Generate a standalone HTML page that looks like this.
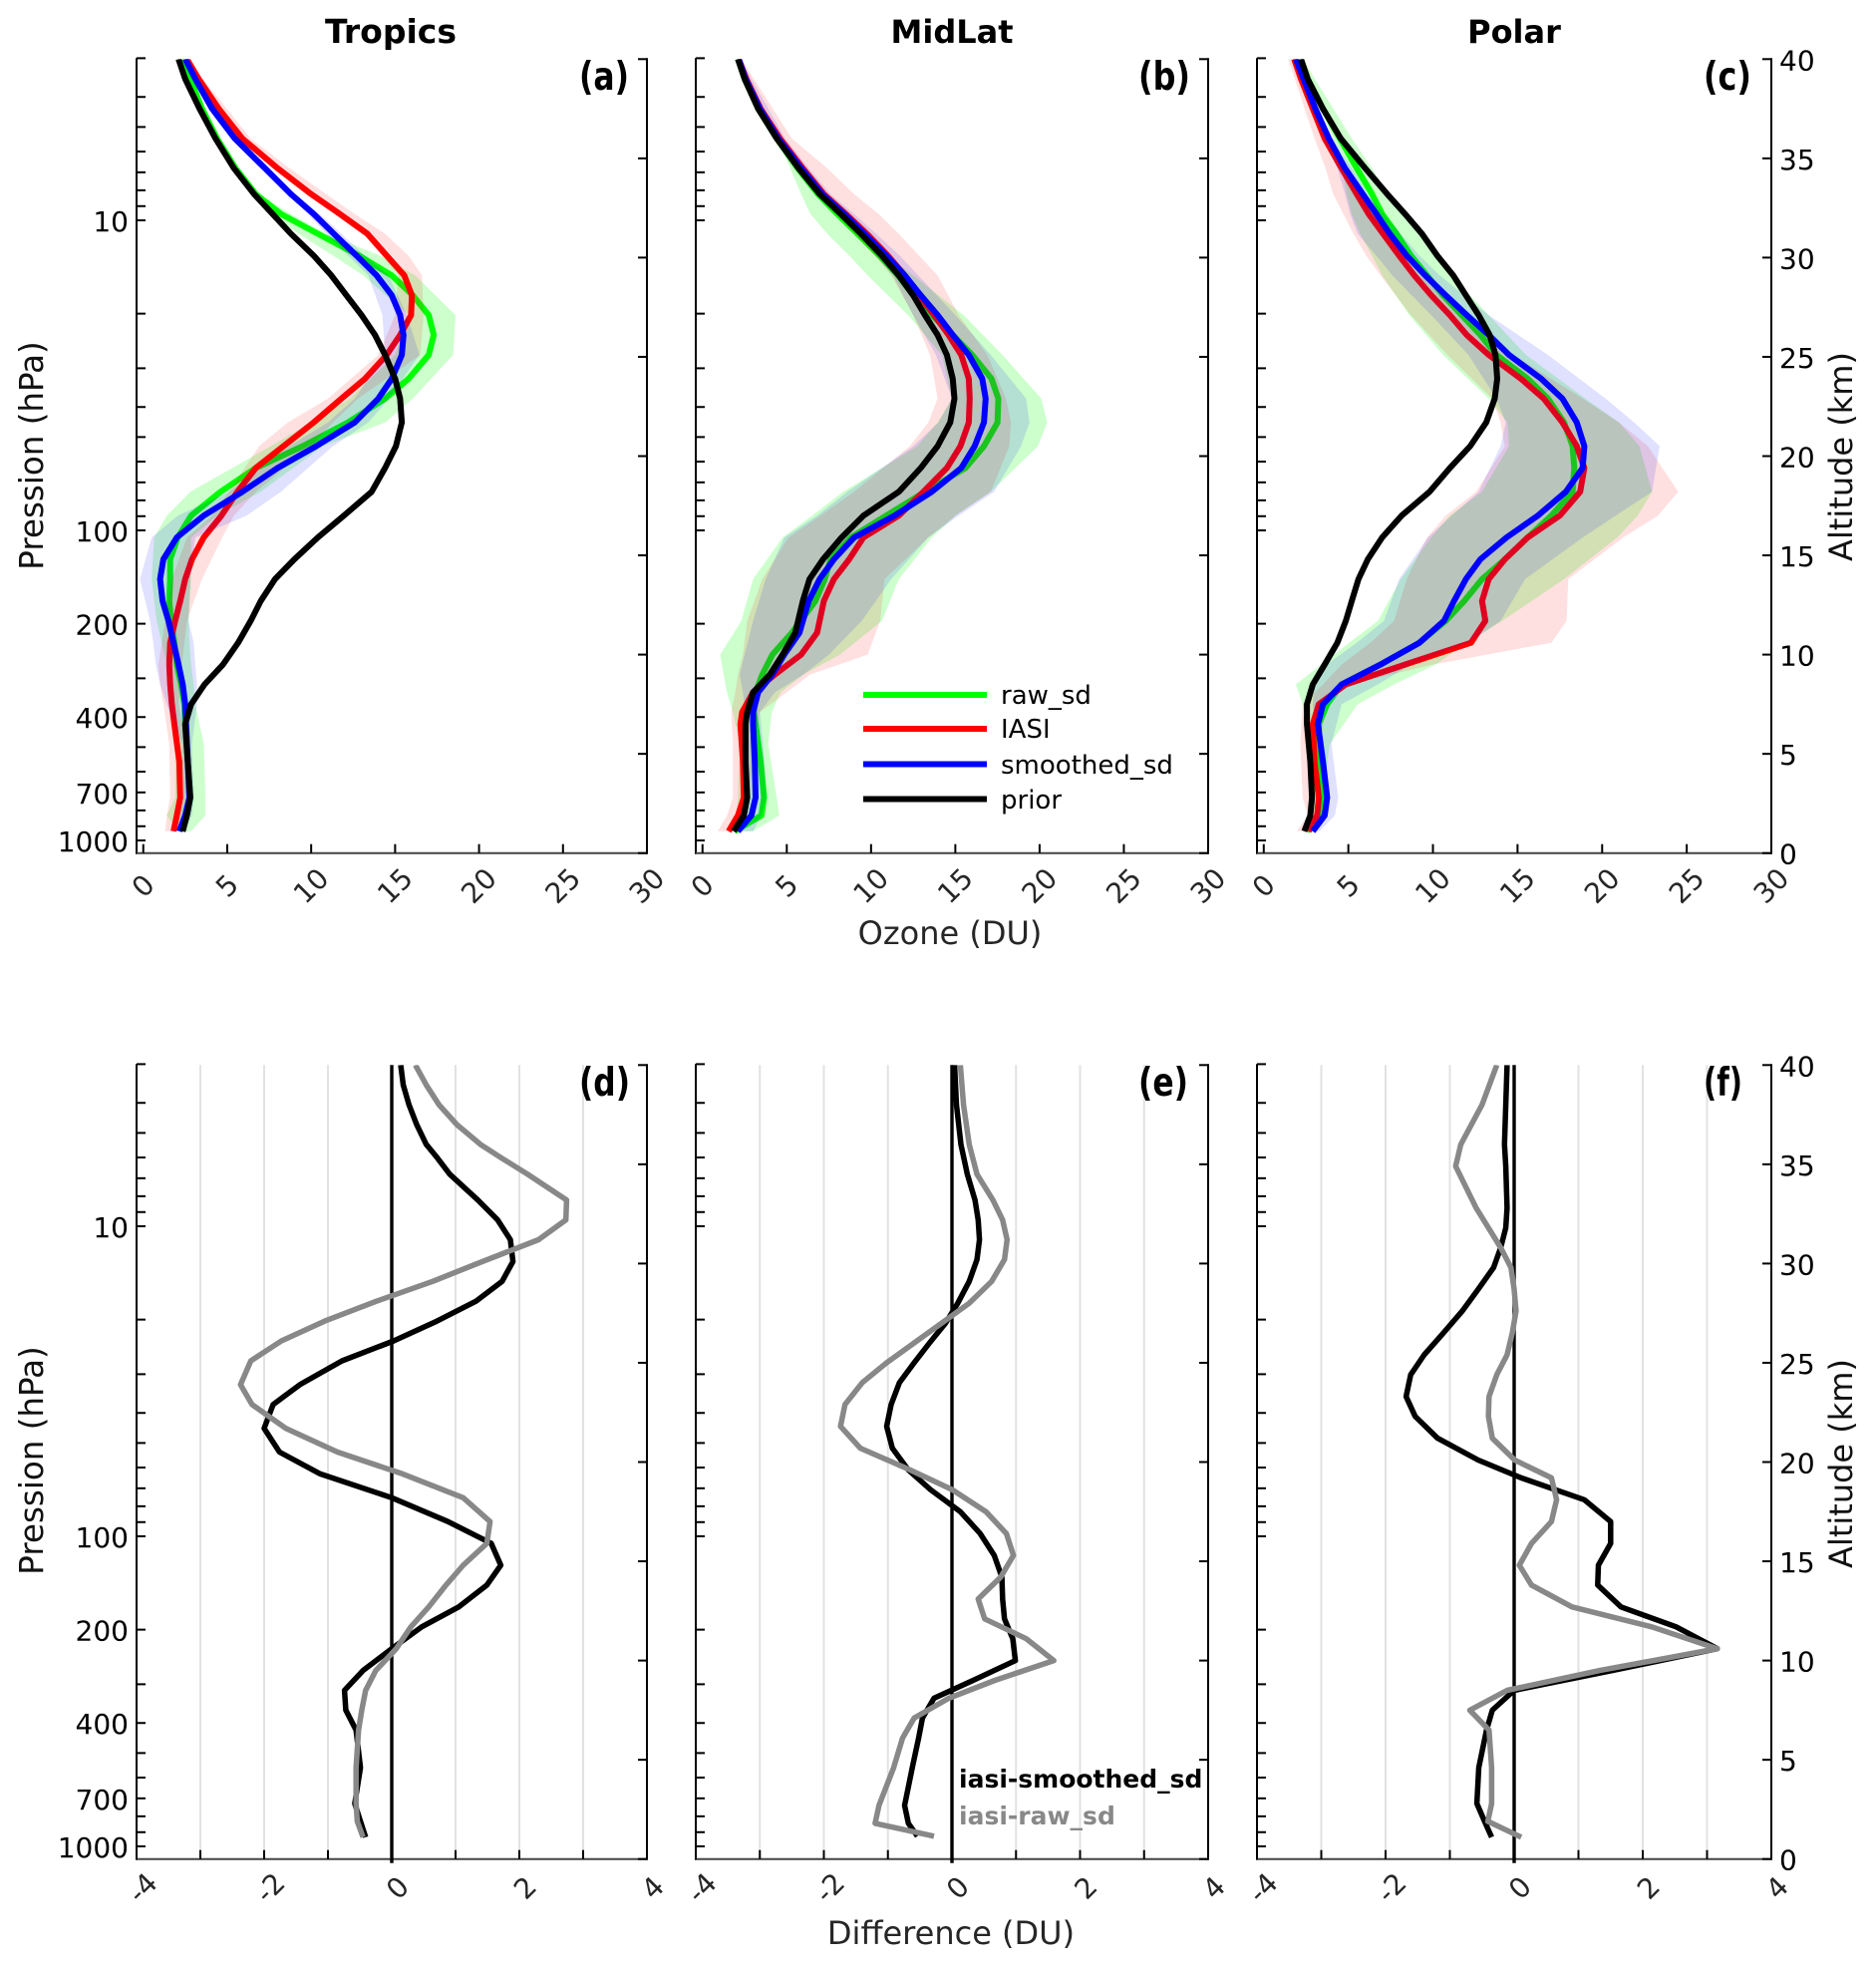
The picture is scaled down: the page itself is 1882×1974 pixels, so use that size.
<!DOCTYPE html>
<html lang="en">
<head>
<meta charset="utf-8">
<title>Ozone profiles by latitude band</title>
<style>
html,body{margin:0;padding:0;background:#fff;}
svg{display:block;font-family:"DejaVu Sans","Liberation Sans",sans-serif;}
.title,.panel-letter,.diff-legend{font-weight:bold;}
</style>
</head>
<body>
<svg id="figure" xmlns="http://www.w3.org/2000/svg" width="1882" height="1974" viewBox="0 0 1882 1974">
  <rect x="0" y="0" width="1882" height="1974" fill="#fff"/>
  <g id="marks"></g>
  <text class="title" x="392" y="43" font-size="33" text-anchor="middle">Tropics</text>
  <text class="title" x="955" y="43" font-size="32" text-anchor="middle">MidLat</text>
  <text class="title" x="1519" y="43" font-size="32" text-anchor="middle">Polar</text>
  <text class="panel-letter" x="581" y="90" font-size="39" textLength="50" lengthAdjust="spacingAndGlyphs">(a)</text>
  <text class="panel-letter" x="1142" y="90" font-size="39" textLength="52" lengthAdjust="spacingAndGlyphs">(b)</text>
  <text class="panel-letter" x="1709" y="90" font-size="39" textLength="48" lengthAdjust="spacingAndGlyphs">(c)</text>
  <text class="panel-letter" x="581" y="1099" font-size="39" textLength="51" lengthAdjust="spacingAndGlyphs">(d)</text>
  <text class="panel-letter" x="1142" y="1099" font-size="39" textLength="50" lengthAdjust="spacingAndGlyphs">(e)</text>
  <text class="panel-letter" x="1709" y="1099" font-size="39" textLength="39" lengthAdjust="spacingAndGlyphs">(f)</text>
  <text x="953" y="947" font-size="32" fill="#262626" text-anchor="middle">Ozone (DU)</text>
  <text x="954" y="1950" font-size="32" fill="#262626" text-anchor="middle">Difference (DU)</text>
  <text transform="translate(43 457) rotate(-90)" font-size="32.5" fill="#111" text-anchor="middle">Pression (hPa)</text>
  <text transform="translate(43 1465) rotate(-90)" font-size="32.5" fill="#111" text-anchor="middle">Pression (hPa)</text>
  <text transform="translate(1858 458) rotate(-90)" font-size="32" fill="#111" text-anchor="middle">Altitude (km)</text>
  <text transform="translate(1858 1468) rotate(-90)" font-size="32" fill="#111" text-anchor="middle">Altitude (km)</text>
  <g>
    <line x1="866" x2="990" y1="697" y2="697" stroke="#00ff00" stroke-width="6"/>
    <text x="1004" y="706" font-size="26">raw_sd</text>
    <line x1="866" x2="990" y1="731" y2="731" stroke="#ff0000" stroke-width="6"/>
    <text x="1004" y="740" font-size="26">IASI</text>
    <line x1="866" x2="990" y1="766.5" y2="766.5" stroke="#0000ff" stroke-width="6"/>
    <text x="1004" y="776" font-size="26">smoothed_sd</text>
    <line x1="866" x2="990" y1="801.5" y2="801.5" stroke="#000" stroke-width="6"/>
    <text x="1004" y="811" font-size="26">prior</text>
  </g>
  <text class="diff-legend" x="962" y="1793" font-size="25" fill="#000">iasi-smoothed_sd</text>
  <text class="diff-legend" x="962" y="1830" font-size="25" fill="#888">iasi-raw_sd</text>
</svg>
<script>
// ---------- axis tick data ----------
const ozoneTicks = [0, 5, 10, 15, 20, 25, 30];
const diffTicks = [-4, -3, -2, -1, 0, 1, 2, 3, 4];
const diffTickLabels = [-4, -2, 0, 2, 4];
const gridValues = [-3, -2, -1, 1, 2, 3];
const pressureTickLabels = [10, 100, 200, 400, 700, 1000];
const pressureMinorTicks = [3, 4, 5, 6, 7, 8, 9, 20, 30, 40, 50, 60, 70, 80, 90, 300, 500, 600, 800, 900];
const altitudeTicks = [0, 5, 10, 15, 20, 25, 30, 35, 40];

// ---------- altitude levels (km) ----------
const altA = [1.1,1.9,2.8,4.6,6.5,7.5,8.5,9.5,10.6,11.7,12.7,13.8,14.8,15.9,17,18.2,19.4,20.5,21.7,22.9,23.9,25.1,26.1,27.1,28.1,29.1,30.1,31.2,32.2,33.2,34.5,36,37.5,39,40];
const altB = [1.1,1.9,2.8,4.6,6.5,7.1,8.1,9,10,11.1,12.7,13.8,14.8,15.9,17,18.2,19.4,20.5,21.7,22.9,23.9,25.1,26.1,27.1,28.1,29.1,30.1,31.2,32.2,33.2,34.5,36,37.5,39,40];
const altC = [1.1,1.9,2.8,4.6,6.5,7.5,8.5,9.5,10.6,11.7,12.7,13.8,14.8,15.9,17,18.2,19.4,20.5,21.7,22.9,23.9,25.1,26.1,27.1,28.1,29.1,30.1,31.2,32.2,33.2,34.5,36,37.5,39,40];
const bandAltA = [1.1,1.9,2.8,5.5,7.5,8.5,9.5,10.6,11.7,13.8,15.9,17,18.2,20.5,21.7,22.9,25.1,27.1,29.1,30.1,31.2,32.2,33.2,34.5,36,40];
const bandAltB = [1.1,1.9,2.8,5.5,7.1,8.1,9,10,11.7,13.8,15.9,17,18.2,20.5,21.7,22.9,25.1,27.1,29.1,30.1,31.2,32.2,33.2,34.5,36,40];
const bandAltC = [1.1,1.9,2.8,5.5,7.5,8.5,9.5,10.6,11.7,13.8,15.9,17,18.2,20.5,21.7,22.9,25.1,27.1,29.1,30.1,31.2,32.2,33.2,34.5,36,40];
const altD = [1.1,1.9,2.8,4.6,6.5,7.5,8.5,9.5,10.6,11.7,12.7,13.8,14.8,15.9,17,18.2,19.4,20.5,21.7,22.9,23.9,25.1,26.1,27.1,28.1,29.1,30.1,31.2,32.2,33.2,34.5,35.3,36,37,38,39,40];
const altE = [1.15,1.8,2.7,4.6,6.1,7.1,8.1,9,10,11.1,12.1,13.1,14.2,15.3,16.4,17.5,18.6,19.6,20.7,21.8,22.9,24,25,26,27,28,29.1,30.2,31.2,32.2,33.2,34.5,36,38,40];
const altF = [1.1,1.9,2.8,4.6,6.5,7.5,8.5,9.5,10.6,11.7,12.7,13.8,14.8,15.9,17,18.1,19.2,20.1,21.2,22.3,23.3,24.4,25.4,26.5,27.6,28.7,29.8,30.8,31.8,32.8,34.9,36,38,40];

// ---------- Tropics (DU) ----------
const priorA = [2.35,2.6,2.8,2.65,2.5,2.85,3.65,4.75,5.65,6.4,7.0,7.85,9.0,10.4,11.95,13.6,14.4,15.05,15.4,15.3,15.0,14.4,13.8,13.0,12.1,11.2,10.15,8.8,7.7,6.6,5.4,4.3,3.35,2.5,2.1];
const rawA = [2.3,2.6,2.8,2.65,2.5,2.45,2.25,2.0,1.85,1.65,1.55,1.6,1.6,2.05,2.85,4.6,6.7,9.5,12.2,14.4,15.8,17.0,17.3,17.0,16.05,14.8,12.85,10.4,8.2,6.7,5.5,4.4,3.5,2.8,2.4];
const iasiA = [1.8,2.0,2.2,2.15,1.85,1.7,1.6,1.55,1.6,1.9,2.2,2.5,2.9,3.6,4.65,5.6,6.7,8.35,10.15,11.8,13.2,14.5,15.3,15.95,16.0,15.55,14.5,13.35,11.7,10,8,5.9,4.5,3.3,2.6];
const smoothedA = [2.15,2.5,2.75,2.65,2.55,2.5,2.35,2.1,1.8,1.5,1.15,1.0,1.2,2.0,3.6,5.9,8.0,10.3,12.6,14.0,14.8,15.4,15.5,15.3,14.8,13.9,12.7,11.35,10.15,8.8,7.25,5.45,4.1,3.1,2.5];
const rawLoA = [2.05,1.4,1.9,1.9,1.8,1.6,1.4,1.1,0.8,0.5,0.65,1.4,2.8,7.6,10,12.3,15,15.8,13.1,11.3,9.25,7.6,6.6,5.5,4.3,2.4];
const rawHiA = [2.85,3.7,3.7,3.6,3.1,3,2.85,2.75,2.7,2.85,2.85,4.4,7,10.7,14.4,16.05,18.45,18.6,16.2,14.1,10.9,8.8,6.9,5.7,4.5,2.4];
const iasiLoA = [1.3,1.4,1.6,1.55,1.2,1,0.9,1.1,1.3,1.7,2.6,4.1,5.1,6.9,8.6,11,14,15,15.2,14.2,13.1,11.5,9.8,7.8,5.8,2.6];
const iasiHiA = [2.2,2.5,2.8,2.55,2.1,2.2,2.3,2.45,2.6,3.5,4.7,5.4,6.7,10,11.3,12.8,16.5,16.7,16.6,15.8,14.4,12.6,10.9,8.7,6.4,2.6];
const smoothedLoA = [2,2.2,2.4,2.3,1.4,1,0.75,0.6,0.4,-0.2,0.5,2.05,5.1,8.7,11,12.6,14.4,14.25,13.4,12.2,10.9,9.8,8.6,7.1,5.3,2.5];
const smoothedHiA = [2.4,2.9,3,2.9,3.2,3.2,3.1,3,2.7,2.8,3.1,6.15,8.2,11.3,13.4,14.65,16.45,15.7,14.6,13.2,11.8,10.5,9,7.4,5.6,2.5];

// ---------- MidLat (DU) ----------
const priorB = [1.85,2.45,2.65,2.55,2.55,2.65,3,4,4.75,5.5,5.95,6.35,7.15,8.25,9.55,11.65,12.95,13.95,14.7,14.95,14.85,14.5,13.95,13.2,12.5,11.65,10.65,9.4,8.2,6.95,5.7,4.4,3.3,2.5,2.1];
const rawB = [1.9,3.5,3.65,3.45,3.15,3.05,3.15,3.55,4.15,5.3,6.7,7.25,7.6,8.8,10.9,13.2,15.6,16.7,17.5,17.55,17.15,16,14.85,13.6,12.5,11.6,10.5,9.2,8,6.85,5.65,4.4,3.3,2.5,2.1];
const iasiB = [1.55,2.1,2.45,2.4,2.25,2.35,3,4.3,5.85,6.8,7.2,7.8,8.7,9.55,11.65,13.1,14.5,15.3,15.8,15.85,15.8,15.35,14.6,13.75,12.85,12,11,9.75,8.5,7.2,5.95,4.6,3.45,2.6,2.15];
const smoothedB = [2.1,2.9,3.15,3.1,3,3,3.3,4.15,4.85,5.75,6.3,6.95,7.8,9,11.4,13.6,15.35,16.15,16.7,16.8,16.6,15.8,14.85,13.95,12.95,12,10.9,9.6,8.4,7.1,5.85,4.5,3.4,2.55,2.15];
const rawLoB = [1.8,2,2.1,2.2,1.8,1.45,1.25,1.05,2.3,3,4.75,6.5,8.35,12.75,13.95,14.8,14.2,12.2,9.8,8.7,7.4,6.4,5.85,5.2,4.4,2];
const rawHiB = [3,4.55,4.4,3.9,4.1,4.65,6,8.15,10.65,11.65,13.6,15,17.1,19.9,20.45,20.1,17.8,15.5,12.5,11,9.6,8.4,7.1,5.75,4.5,2.2];
const iasiLoB = [0.9,1.45,1.8,1.8,1.7,1.95,2.1,2.4,2.65,3.55,5.1,7,9,12.3,13.4,13.95,13.5,12.5,11.2,10.2,9,7.9,6.8,5.6,4.3,2.1];
const iasiHiB = [1.8,2.55,2.8,3,3.4,5,6.4,9.8,10.55,10.8,13.4,15,17.1,18.2,18.3,18,16.9,15.2,13.95,12.85,11.65,10.45,9,7.4,5.3,2.3];
const smoothedLoB = [1.8,2.3,2.5,2.4,2.55,2.4,2.2,2.5,3,3.75,4.85,6.8,8.6,12.5,14,14.8,13.85,12.5,11.3,10.3,9.2,8,6.9,5.6,4.3,2.1];
const smoothedHiB = [3,3.5,3.8,3.6,3.4,4.3,6,7.5,9.45,11.2,13.4,15.2,17.3,18.9,19.4,19.2,17.1,15,12.8,11.7,10.3,9,7.6,6.3,4.9,2.25];

// ---------- Polar (DU) ----------
const priorC = [2.4,2.75,2.85,2.75,2.55,2.55,2.9,3.6,4.35,4.85,5.2,5.6,6.15,7,8.15,9.8,11,12.2,13.15,13.65,13.8,13.7,13.35,12.7,11.95,11.2,10.25,9.35,8.35,7.3,6,4.55,3.5,2.6,2.2];
const rawC = [2.55,3.25,3.4,3.3,3.25,3.75,4.6,6.9,9.2,10.75,11.85,12.9,14.25,15.6,17,18.25,18.35,18.25,17.75,16.8,15.6,13.75,12.8,11.7,10.6,9.65,8.7,7.85,7,6.4,5.5,4.5,3.5,2.6,2.2];
const iasiC = [2.65,3.15,3.25,3,2.9,3.25,4.85,8.35,12.25,13.1,12.9,13.3,14.25,15.6,17.5,18.7,18.95,18.5,17.65,16.55,15.2,13.3,12,11,9.9,8.9,8,7.05,6.2,5.5,4.6,3.6,2.9,2.2,1.8];
const smoothedC = [2.9,3.6,3.75,3.5,3.2,3.5,4.6,6.9,9.2,10.65,11.25,11.95,12.8,14.35,16.2,17.85,18.85,18.95,18.5,17.65,16.4,14.5,13.3,12,10.75,9.55,8.45,7.45,6.65,5.85,4.8,3.85,3.05,2.35,1.9];
const rawLoC = [2.4,2.9,3,2.65,2.3,1.9,3.4,5.05,6.75,8.1,9.9,11,12.9,14.5,14.4,13.3,10.6,8.6,7,6.4,5.7,5.2,4.9,4.6,4.1,2.2];
const rawHiC = [2.8,3.6,3.5,3.9,5.55,7.7,10.15,12,14.1,17.75,20.9,22.1,22.95,22.2,21,19,15.5,13.3,11.1,10.25,9.2,8.35,7.35,6.4,5.2,2.3];
const iasiLoC = [1.95,2.6,2.3,2.15,2.3,3.5,4.6,6.3,7.7,8.45,9.65,10.75,12.55,14.25,14,13.5,10.85,8.7,6.9,6.05,5.3,4.7,4.1,3.65,3,1.45];
const iasiHiC = [2.4,3,3,3.4,3.6,5,10,17,17.9,18,21.25,23.3,24.5,22.7,21,18.85,14.75,12.1,9.55,8.45,7.6,6.65,5.9,5.05,3.9,1.9];
const smoothedLoC = [2.6,3,3.3,3.2,2.9,3,3.7,5.5,7.1,8,9.7,11.1,12.7,14,14.3,13.75,12.1,9.9,7.6,6.65,5.55,5.1,4.8,4.35,3.5,1.7];
const smoothedHiC = [3.3,4.2,4.4,4,4.6,6.75,8.7,12.1,14,15.45,18.85,20.8,22.95,23.4,21.9,20.2,16.8,13.3,10.4,9.2,8.1,7.1,6.15,5.2,4,2.1];

// ---------- Differences (DU) ----------
const smoothedDiffD = [-0.41,-0.49,-0.58,-0.49,-0.56,-0.72,-0.74,-0.45,0,0.47,1.05,1.49,1.71,1.56,0.88,0,-1.12,-1.76,-2.0,-1.86,-1.44,-0.78,0.03,0.71,1.32,1.73,1.9,1.86,1.66,1.35,0.91,0.72,0.54,0.39,0.27,0.18,0.14];
const rawDiffD = [-0.45,-0.54,-0.56,-0.56,-0.52,-0.47,-0.41,-0.25,0.07,0.3,0.58,0.85,1.12,1.49,1.54,1.12,0.17,-0.85,-1.66,-2.19,-2.37,-2.21,-1.73,-1.05,-0.24,0.64,1.42,2.3,2.73,2.74,2.13,1.73,1.39,1.02,0.74,0.54,0.37];
const smoothedDiffE = [-0.54,-0.68,-0.74,-0.62,-0.52,-0.46,-0.28,0.33,0.99,0.95,0.82,0.79,0.78,0.66,0.44,0.13,-0.33,-0.68,-0.93,-1.02,-0.95,-0.82,-0.59,-0.35,-0.1,0.09,0.27,0.39,0.43,0.41,0.36,0.24,0.14,0.07,0.04];
const rawDiffE = [-0.28,-1.2,-1.14,-0.91,-0.77,-0.59,-0.05,0.67,1.59,1.16,0.51,0.41,0.76,0.96,0.85,0.53,0.01,-0.65,-1.43,-1.74,-1.67,-1.4,-1.02,-0.59,-0.16,0.27,0.62,0.82,0.86,0.79,0.64,0.39,0.27,0.18,0.13];
const smoothedDiffF = [-0.35,-0.46,-0.58,-0.55,-0.43,-0.34,0,1.53,3.16,2.52,1.66,1.3,1.31,1.5,1.5,1.09,0.11,-0.56,-1.19,-1.54,-1.68,-1.61,-1.4,-1.1,-0.81,-0.56,-0.32,-0.21,-0.13,-0.11,-0.13,-0.15,-0.13,-0.11];
const rawDiffF = [0.11,-0.41,-0.35,-0.35,-0.39,-0.69,-0.11,1.33,3.16,2.14,0.9,0.27,0.08,0.27,0.58,0.66,0.58,0.01,-0.34,-0.4,-0.39,-0.27,-0.11,-0.03,0.03,0,-0.05,-0.21,-0.4,-0.59,-0.91,-0.83,-0.5,-0.27];

// ---------- drawing ----------
const NS = 'http://www.w3.org/2000/svg';
const marks = document.getElementById('marks');

function make(tag, attrs, name, parent) {
  const node = document.createElementNS(NS, tag);
  for (const key in attrs) node.setAttribute(key, attrs[key]);
  
  
  (parent || marks).appendChild(node);
  return node;
}

function panelAxes(left, right, top, xMin, xMax) {
  const bottom = top + 796.4;
  return {
    left, right, top, bottom,
    x: v => left + (v - xMin) / (xMax - xMin) * (right - left),
    alt: z => bottom - 19.91 * z,
    pres: p => top + 161.7 + 311 * Math.log10(p / 10)
  };
}

function polyline(ax, alts, values) {
  return values.map((v, i) => ax.x(v).toFixed(1) + ',' + ax.alt(alts[i]).toFixed(1)).join(' ');
}

function drawLine(ax, alts, values, color, width, name, clip) {
  make('polyline', {points: polyline(ax, alts, values), fill: 'none', stroke: color, 'stroke-width': width, 'stroke-linejoin': 'round', 'clip-path': 'url(#' + clip + ')'}, name);
}

function drawBand(ax, alts, lo, hi, color, opacity, name, clip) {
  const forward = lo.map((v, i) => ax.x(v).toFixed(1) + ',' + ax.alt(alts[i]).toFixed(1));
  const back = hi.map((v, i) => ax.x(v).toFixed(1) + ',' + ax.alt(alts[i]).toFixed(1)).reverse();
  make('polygon', {points: forward.concat(back).join(' '), fill: color, 'fill-opacity': opacity, 'clip-path': 'url(#' + clip + ')'}, name);
}

function drawFrame(ax, id, xTickValues, xLabels, labelDy, labelDx, showPressure, showAltitude) {
  const clip = make('clipPath', {id: 'clip-' + id}, 'clip-region-' + id);
  make('rect', {x: ax.left, y: ax.top, width: ax.right - ax.left, height: ax.bottom - ax.top}, 'clip-rect-' + id, clip);

  const g = make('g', {stroke: '#000', 'stroke-width': 2}, 'axes-frame-' + id);
  make('line', {x1: ax.left, x2: ax.left, y1: ax.top - 1, y2: ax.bottom + 1}, 'left-spine-' + id, g);
  make('line', {x1: ax.right, x2: ax.right, y1: ax.top - 1, y2: ax.bottom + 1}, 'right-spine-' + id, g);
  make('line', {x1: ax.left, x2: ax.right, y1: ax.bottom, y2: ax.bottom, stroke: '#444'}, 'bottom-spine-' + id, g);

  pressureMinorTicks.concat(pressureTickLabels).forEach(p => {
    const y = ax.pres(p);
    make('line', {x1: ax.left, x2: ax.left + 9, y1: y, y2: y}, 'pressure-tick-' + id, g);
  });
  altitudeTicks.forEach(z => {
    const y = ax.alt(z);
    make('line', {x1: ax.right - 9, x2: ax.right, y1: y, y2: y}, 'altitude-tick-' + id, g);
  });
  xTickValues.forEach(v => {
    const x = ax.x(v);
    make('line', {x1: x, x2: x, y1: ax.bottom - 9, y2: ax.bottom}, 'x-tick-' + id, g);
  });
  xLabels.forEach(v => {
    const x = ax.x(v) + labelDx;
    const y = ax.bottom + labelDy;
    const t = make('text', {x: x, y: y, 'font-size': 28, fill: '#262626', 'text-anchor': 'middle', 'dominant-baseline': 'central', transform: 'rotate(-45 ' + x.toFixed(1) + ' ' + y.toFixed(1) + ')'}, 'x-tick-label-' + id);
    t.textContent = String(v);
  });
  if (showPressure) {
    pressureTickLabels.forEach(p => {
      const t = make('text', {x: ax.left - 8, y: ax.pres(p) + 11, 'font-size': 28, 'text-anchor': 'end'}, 'pressure-tick-label-' + id);
      t.textContent = String(p);
    });
  }
  if (showAltitude) {
    altitudeTicks.forEach(z => {
      const t = make('text', {x: ax.right + 8, y: ax.alt(z) + 11, 'font-size': 28}, 'altitude-tick-label-' + id);
      t.textContent = String(z);
    });
  }
  return 'clip-' + id;
}

function drawProfilePanel(id, left, right, alts, bandAlts, raw, rawLo, rawHi, iasi, iasiLo, iasiHi, smoothed, smoothedLo, smoothedHi, prior, showPressure, showAltitude) {
  const ax = panelAxes(left, right, 59.3, -0.4, 30);
  const clip = drawFrame(ax, id, ozoneTicks, ozoneTicks, 33, 0, showPressure, showAltitude);
  drawLine(ax, alts, raw, '#00ff00', 6, 'raw-sd-line-' + id, clip);
  drawBand(ax, bandAlts, rawLo, rawHi, '#00ff00', 0.2, 'raw-sd-band-' + id, clip);
  drawLine(ax, alts, iasi, '#ff0000', 6, 'iasi-line-' + id, clip);
  drawBand(ax, bandAlts, iasiLo, iasiHi, '#ff0000', 0.12, 'iasi-band-' + id, clip);
  drawLine(ax, alts, smoothed, '#0000ff', 6, 'smoothed-sd-line-' + id, clip);
  drawBand(ax, bandAlts, smoothedLo, smoothedHi, '#0000ff', 0.12, 'smoothed-sd-band-' + id, clip);
  drawLine(ax, alts, prior, '#000000', 6, 'prior-line-' + id, clip);
}

function drawDiffPanel(id, left, right, alts, smoothedDiff, rawDiff, showPressure, showAltitude) {
  const ax = panelAxes(left, right, 1068.3, -4, 4);
  gridValues.forEach(v => {
    make('line', {x1: ax.x(v), x2: ax.x(v), y1: ax.top, y2: ax.bottom, stroke: '#e2e2e2', 'stroke-width': 2}, 'grid-line-' + id);
  });
  const clip = drawFrame(ax, id, diffTicks, diffTickLabels, 29, 6, showPressure, showAltitude);
  make('line', {x1: ax.x(0), x2: ax.x(0), y1: ax.top, y2: ax.bottom + 4, stroke: '#000', 'stroke-width': 3.4}, 'zero-line-' + id);
  drawLine(ax, alts, smoothedDiff, '#000000', 5.5, 'iasi-smoothed-sd-line-' + id, clip);
  drawLine(ax, alts, rawDiff, '#888888', 5.5, 'iasi-raw-sd-line-' + id, clip);
}

drawProfilePanel('a', 137, 649, altA, bandAltA, rawA, rawLoA, rawHiA, iasiA, iasiLoA, iasiHiA, smoothedA, smoothedLoA, smoothedHiA, priorA, true, false);
drawProfilePanel('b', 698, 1212, altB, bandAltB, rawB, rawLoB, rawHiB, iasiB, iasiLoB, iasiHiB, smoothedB, smoothedLoB, smoothedHiB, priorB, false, false);
drawProfilePanel('c', 1261, 1777, altC, bandAltC, rawC, rawLoC, rawHiC, iasiC, iasiLoC, iasiHiC, smoothedC, smoothedLoC, smoothedHiC, priorC, false, true);
drawDiffPanel('d', 137, 649, altD, smoothedDiffD, rawDiffD, true, false);
drawDiffPanel('e', 698, 1212, altE, smoothedDiffE, rawDiffE, false, false);
drawDiffPanel('f', 1261, 1777, altF, smoothedDiffF, rawDiffF, false, true);
</script>
</body>
</html>
